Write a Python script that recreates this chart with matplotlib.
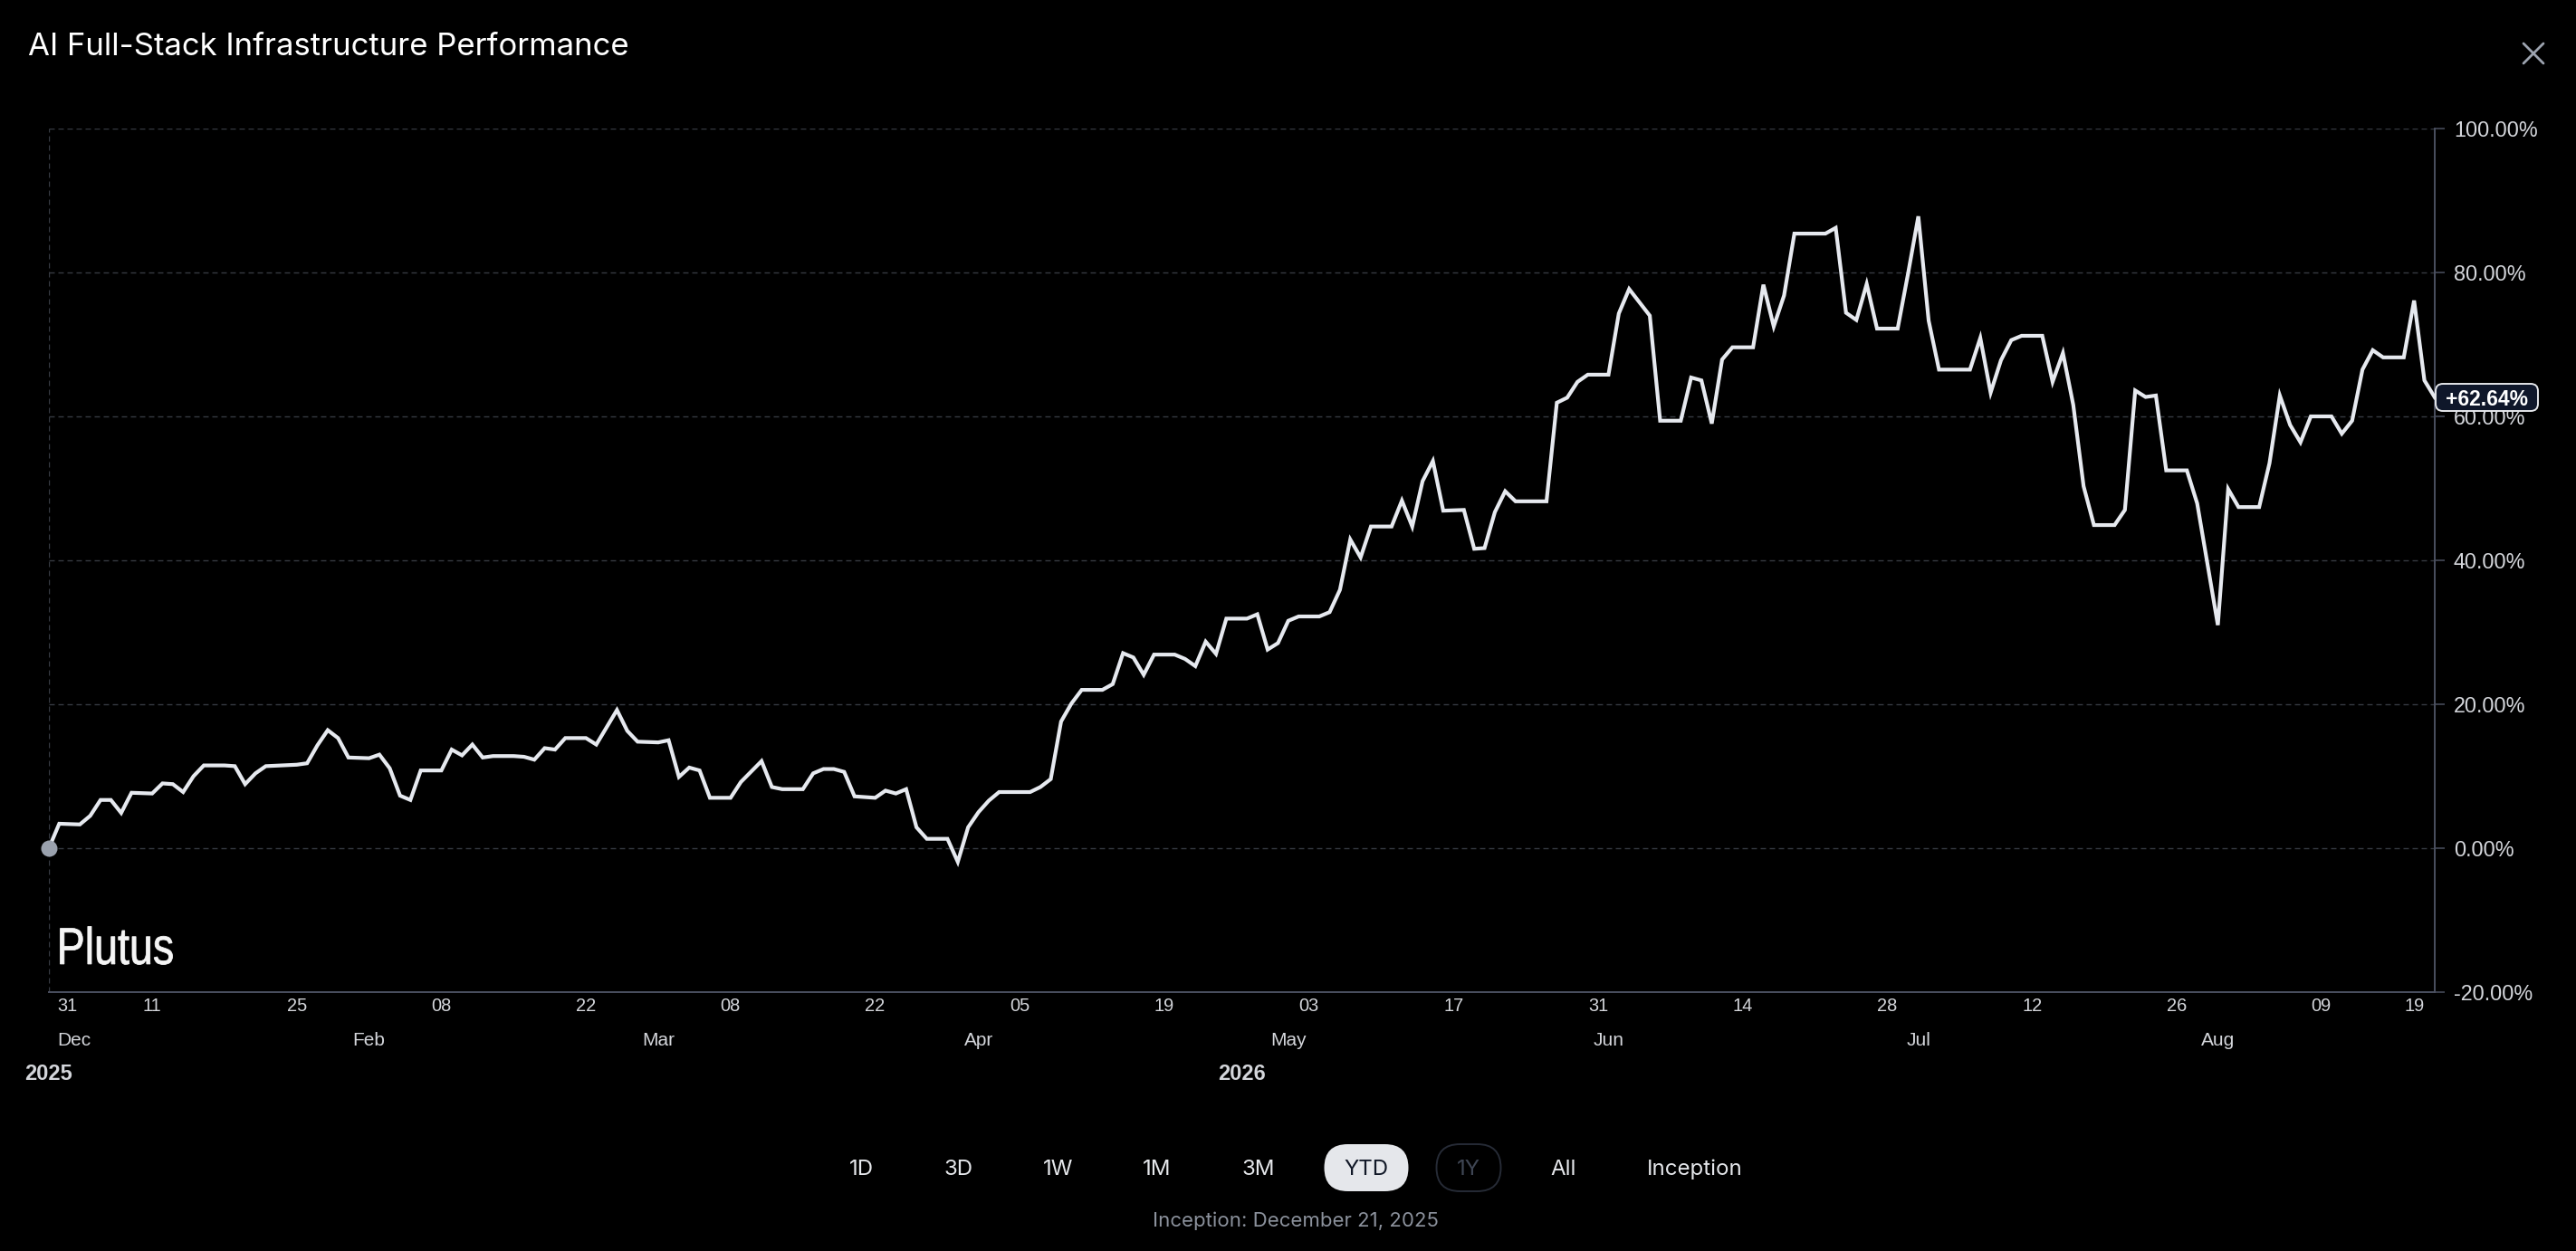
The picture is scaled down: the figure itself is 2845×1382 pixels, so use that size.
import numpy as np
import matplotlib
matplotlib.use("Agg")
import matplotlib.pyplot as plt
import matplotlib.dates as mdates
from matplotlib import transforms
from matplotlib.patches import FancyBboxPatch, PathPatch
from matplotlib.lines import Line2D
from matplotlib.textpath import TextPath
from matplotlib.font_manager import FontProperties

plt.rcParams['font.family'] = ['Liberation Sans', 'DejaVu Sans']
plt.rcParams['lines.scale_dashes'] = False

title = "AI Full-Stack Infrastructure Performance"
inception_note = "Inception: December 21, 2025"
watermark = "Plutus"

# performance vs. start, days counted from the left edge of the chart
start_date = "2026-01-01"
day_offset = [0, 1, 3, 4, 5, 6, 7, 8, 10, 11, 12, 13, 14, 15, 17, 18, 19, 20, 21, 24,
              25, 26, 27, 28, 29, 31, 32, 33, 34, 35, 36, 38, 39, 40, 41, 42, 43, 45, 46, 47,
              48, 49, 50, 52, 53, 55, 56, 57, 59, 60, 61, 62, 63, 64, 66, 67, 69, 70, 71, 73,
              74, 75, 76, 77, 78, 80, 81, 82, 83, 84, 85, 87, 88, 89, 90, 91, 92, 95, 96, 97,
              98, 99, 100, 102, 103, 104, 105, 106, 107, 109, 110, 111, 112, 113, 114, 116, 117, 118, 119, 120,
              121, 123, 124, 125, 126, 127, 128, 130, 131, 132, 133, 134, 135, 137, 138, 139, 140, 141, 142, 145,
              146, 147, 148, 149, 151, 152, 153, 155, 156, 158, 159, 160, 161, 162, 163, 165, 166, 167, 168, 169,
              172, 173, 174, 175, 176, 177, 179, 180, 181, 182, 183, 186, 187, 188, 189, 190, 191, 193, 194, 195,
              196, 197, 198, 200, 201, 202, 203, 204, 205, 207, 208, 210, 211, 212, 214, 215, 216, 217, 218, 219,
              221, 222, 223, 224, 225, 226, 228, 229, 230, 231]
perf_pct = [0.0, 3.4, 3.3, 4.5, 6.7, 6.7, 4.9, 7.7, 7.6, 9.0, 8.9, 7.8, 10.0, 11.5, 11.5, 11.4, 8.9, 10.4, 11.4, 11.6,
            11.8, 14.3, 16.4, 15.3, 12.6, 12.5, 13.0, 11.1, 7.3, 6.7, 10.8, 10.8, 13.7, 12.9, 14.4, 12.6, 12.8, 12.8, 12.7, 12.3,
            13.9, 13.7, 15.3, 15.3, 14.4, 19.2, 16.3, 14.8, 14.7, 15.0, 9.9, 11.2, 10.8, 7.0, 7.0, 9.2, 12.1, 8.5, 8.2, 8.2,
            10.4, 11.0, 11.0, 10.6, 7.2, 7.0, 8.0, 7.6, 8.2, 2.9, 1.3, 1.3, -1.9, 2.9, 5.0, 6.6, 7.8, 7.8, 8.5, 9.6,
            17.6, 20.1, 22.0, 22.0, 22.8, 27.1, 26.5, 24.1, 26.9, 26.9, 26.3, 25.3, 28.7, 27.0, 31.9, 31.9, 32.5, 27.6, 28.5, 31.6,
            32.2, 32.2, 32.8, 35.9, 42.9, 40.4, 44.7, 44.7, 48.3, 44.7, 51.0, 53.8, 46.9, 47.0, 41.6, 41.7, 46.7, 49.6, 48.2, 48.2,
            61.9, 62.6, 64.8, 65.8, 65.8, 74.3, 77.7, 74.0, 59.4, 59.4, 65.4, 65.0, 59.0, 67.9, 69.6, 69.6, 78.3, 72.5, 76.8, 85.4,
            85.4, 86.2, 74.4, 73.4, 78.4, 72.2, 72.2, 79.8, 87.8, 73.3, 66.5, 66.5, 70.9, 63.3, 67.8, 70.6, 71.2, 71.2, 64.8, 68.8,
            61.6, 50.3, 44.9, 44.9, 47.0, 63.6, 62.7, 62.9, 52.5, 52.5, 47.9, 31.0, 49.9, 47.4, 47.4, 53.5, 62.9, 58.8, 56.4, 60.0,
            60.0, 57.6, 59.4, 66.5, 69.2, 68.2, 68.2, 76.1, 65.0, 62.64]

tick_dates = ["2026-01-01", "2026-01-11", "2026-01-25", "2026-02-08", "2026-02-22", "2026-03-08",
              "2026-03-22", "2026-04-05", "2026-04-19", "2026-05-03", "2026-05-17", "2026-05-31",
              "2026-06-14", "2026-06-28", "2026-07-12", "2026-07-26", "2026-08-09", "2026-08-19"]
tick_labels = ["31", "11", "25", "08", "22", "08", "22", "05", "19", "03", "17", "31",
               "14", "28", "12", "26", "09", "19"]
month_names = ["Dec", "Feb", "Mar", "Apr", "May", "Jun", "Jul", "Aug"]
month_dates = ["2026-01-01", "2026-02-01", "2026-03-01", "2026-04-01", "2026-05-01",
               "2026-06-01", "2026-07-01", "2026-07-30"]
year_labels = ["2025", "2026"]
y_ticks = [-20, 0, 20, 40, 60, 80, 100]
range_buttons = ["1D", "3D", "1W", "1M", "3M", "YTD", "1Y", "All", "Inception"]
active_button = "YTD"
disabled_button = "1Y"

# colours
bg = "#000000"
line_c = "#e6e9ef"
grid_c = "#363a42"
spine_c = "#4b5060"
label_c = "#d4d6db"

W, H = 2845, 1382
fig = plt.figure(figsize=(W / 100, H / 100), dpi=100, facecolor=bg)
ax = fig.add_axes([54 / W, (H - 1096) / H, (2689 - 54) / W, (1096 - 142) / H])
ax.set_facecolor(bg)
ident = transforms.IdentityTransform()


def fy(px):
    return 1 - px / H


x = mdates.date2num(np.datetime64(start_date) + np.array(day_offset).astype("timedelta64[D]"))
tick_x = mdates.date2num(np.array(tick_dates, dtype="datetime64[D]"))
month_x = mdates.date2num(np.array(month_dates, dtype="datetime64[D]"))

ax.set_xlim(x[0], x[-1])
ax.set_ylim(y_ticks[0], y_ticks[-1])

# dashed grid
for v in y_ticks[1:]:
    ax.axhline(v, color=grid_c, lw=1.0, dashes=(4.3, 2.9), zorder=1)
ax.axvline(x[0], color=grid_c, lw=1.0, dashes=(4.3, 2.9), zorder=1)

ax.plot(x, perf_pct, color=line_c, lw=3.0, solid_joinstyle="miter", zorder=5, clip_on=False)
ax.plot(x[0], perf_pct[0], "o", ms=13, color="#9aa1ad", mec="none", zorder=6, clip_on=False)

for s in ["top", "left"]:
    ax.spines[s].set_visible(False)
for s in ["bottom", "right"]:
    ax.spines[s].set_color(spine_c)
    ax.spines[s].set_linewidth(1.4)

ax.yaxis.tick_right()
ax.set_yticks(y_ticks, [f"{v:.2f}%" for v in y_ticks])
ax.tick_params(axis="y", length=8, width=1.1, color=spine_c, pad=7, labelsize=16.8, labelcolor=label_c)
ax.set_xticks([])

# x labels: day / month / year rows
btrans = transforms.blended_transform_factory(ax.transData, fig.transFigure)
shift = transforms.ScaledTranslation(9 / 100, 0, fig.dpi_scale_trans)
for i, (tx, lab) in enumerate(zip(tick_x, tick_labels)):
    ha, tr = "center", btrans
    if i == 0:
        ha, tr = "left", btrans + shift
    elif i == len(tick_x) - 1:
        ha = "right"
    ax.text(tx, fy(1117), lab, transform=tr, ha=ha, va="baseline", fontsize=14.4, color=label_c)

for i, (mx, name) in enumerate(zip(month_x, month_names)):
    ha, tr = "center", btrans
    if i == 0:
        ha, tr = "left", btrans + shift
    ax.text(mx, fy(1155), name, transform=tr, ha=ha, va="baseline", fontsize=15, color=label_c)

year_x = [x[0], (x[0] + x[-1]) / 2]
for yx, yl in zip(year_x, year_labels):
    ax.text(yx, fy(1193), yl, transform=btrans, ha="center", va="baseline", fontsize=17,
            fontweight="bold", color=label_c)

# watermark
tp = TextPath((0, 0), watermark, size=60, prop=FontProperties(family="Liberation Sans"))
ext = tp.get_extents()
wm_tr = (transforms.Affine2D().translate(-ext.x0, -ext.y0)
         .scale(124 / ext.width, 42 / ext.height).translate(66.5, H - 1065.5))
fig.add_artist(PathPatch(tp, transform=wm_tr, fc="#f5f5f5", ec="#f5f5f5", lw=0.6, zorder=2))

# last value badge
bx0 = ax.get_position().x1 * W
by = ax.transData.transform((x[-1], perf_pct[-1]))[1]
fig.add_artist(FancyBboxPatch((bx0 + 1, by - 15), 113, 30, boxstyle="round,pad=0,rounding_size=8",
                              transform=ident, fc="#0f172a", ec="#e5e7eb", lw=1.4, zorder=10))
fig.text(bx0 + 57.5, by, f"+{perf_pct[-1]:.2f}%", transform=ident, ha="center", va="center_baseline",
         fontsize=16.5, fontweight="bold", color="#ffffff", zorder=11)

# title and close icon
fig.text(31 / W, fy(60.7), title, ha="left", va="baseline", fontsize=25, color="#ffffff",
         family=["Inter", "DejaVu Sans"])
for xs, ys in [([2787, 2809], [H - 48, H - 70]), ([2787, 2809], [H - 70, H - 48])]:
    fig.add_artist(Line2D(xs, ys, transform=ident, color="#9ca3af", lw=2.0, solid_capstyle="round"))

# range selector
button_x = [951, 1059, 1169, 1278, 1390, 1509, 1622, 1727, 1872]
for bxp, lab in zip(button_x, range_buttons):
    col = "#e5e7eb"
    if lab == active_button:
        fig.add_artist(FancyBboxPatch((bxp - 46.5, H - 1316), 93, 52, boxstyle="round,pad=0,rounding_size=26",
                                      transform=ident, fc="#e5e7eb", ec="none"))
        col = "#111827"
    elif lab == disabled_button:
        fig.add_artist(FancyBboxPatch((bxp - 35.5, H - 1316), 71, 52, boxstyle="round,pad=0,rounding_size=26",
                                      transform=ident, fc=bg, ec="#262b36", lw=1.4))
        col = "#3f4654"
    fig.text(bxp / W, fy(1298), lab, ha="center", va="baseline", fontsize=17.3, color=col,
             family=["Inter", "DejaVu Sans"])

fig.text(1431 / W, fy(1355), inception_note, ha="center", va="baseline", fontsize=16, color="#8b919c",
         family=["Inter", "DejaVu Sans"])

fig.savefig("out.png", dpi=100, facecolor=bg)
